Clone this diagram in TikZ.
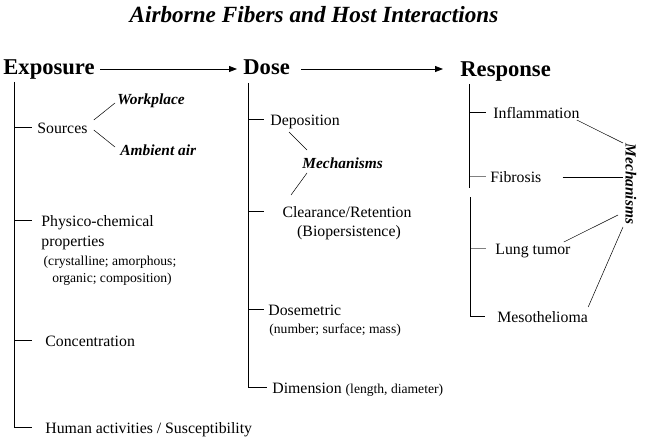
\documentclass[tikz,border=0pt]{standalone}
\usepackage{fontspec}
\setmainfont{Liberation Serif}
\usetikzlibrary{arrows.meta,calc}

\begin{document}
\begin{tikzpicture}[x=1pt,y=-1pt,line width=.8pt,
  head/.style={anchor=base west,inner sep=0,font=\fontsize{22.6}{26}\selectfont\bfseries},
  lbl/.style={anchor=base west,inner sep=0,font=\fontsize{15.8}{18}\selectfont},
  sml/.style={anchor=base west,inner sep=0,font=\fontsize{13.6}{16}\selectfont},
  mech/.style={anchor=base west,inner sep=0,font=\fontsize{15.4}{17}\selectfont\bfseries\itshape},
  arr/.style={-{Triangle[length=8pt,width=6pt]}}]
\useasboundingbox (0,0) rectangle (647,441);
\node[anchor=base,inner sep=0,font=\fontsize{23.2}{26}\selectfont\bfseries\itshape] (title) at (314,23){Airborne Fibers and Host Interactions};
\node[head] (expo) at (3,75){Exposure};
\node[head] (dose) at (243,75){Dose};
\node[head] (resp) at (460,77){Response};
\draw[arr] ($(expo.base east)+(5,-6)$) -- ($(dose.base west)+(-6,-6)$);
\draw[arr] ($(dose.base east)+(11,-6)$) -- ($(resp.base west)+(-17,-8)$);
% exposure
\coordinate (expotop) at (14,82);
\node[lbl] (sources) at (37,133){Sources};
\node[mech] (work) at (117,105){Workplace};
\node[mech] (ambient) at (120,155){Ambient air};
\draw[line width=.5pt] ($(sources.base east)+(6,-13)$) -- ($(work.base west)+(-2,-2)$);
\draw[line width=.5pt] ($(sources.base east)+(6,-3)$) -- ($(ambient.base west)+(-5,-8)$);
\node[lbl] (physico) at (41,226){Physico-chemical};
\node[lbl] (props) at (41,246){properties};
\node[sml,anchor=base] (cryst) at (110,265){(crystalline; amorphous;};
\node[sml,anchor=base] (organic) at (112,282){organic; composition)};
\node[lbl] (conc) at (45,346){Concentration};
\node[lbl] (human) at (45,433){Human activities / Susceptibility};
\foreach \n in {sources,physico,conc}
  \draw ($(expotop |- \n.base)+(0,-6)$) -- +(18,0);
\draw (expotop) |- ($(human.base west)+(-13,-6)$);
% dose
\coordinate (dosetop) at (248,83);
\node[lbl] (depo) at (270,125){Deposition};
\node[mech] (mech1) at (302,168){Mechanisms};
\node[lbl,anchor=base] (clear) at (347,217){Clearance/Retention};
\node[lbl,anchor=base] (biop) at (349,236){(Biopersistence)};
\draw[line width=.5pt] ($(depo.base west)+(19,7)$) -- ($(mech1.base west)+(5,-18)$);
\draw[line width=.5pt] ($(mech1.base west)+(5,5)$) -- ($(clear.base)+(-56,-22)$);
\node[lbl] (dosem) at (268,315){Dosemetric};
\node[sml] (numb) at (269,333){(number; surface; mass)};
\node[lbl] (dimen) at (272,393){Dimension {\fontsize{13.6}{16}\selectfont(length, diameter)}};
\foreach \n in {depo,clear,dosem}
  \draw ($(dosetop |- \n.base)+(0,-6)$) -- +(16,0);
\draw (dosetop) |- ($(dimen.base west)+(-5,-6)$);
% response
\coordinate (resptop) at (469,84);
\node[lbl] (infl) at (493,118){Inflammation};
\node[lbl] (fib) at (490,182){Fibrosis};
\node[lbl] (lung) at (495,254){Lung tumor};
\node[lbl] (meso) at (497,322){Mesothelioma};
\node[anchor=center,inner sep=0,rotate=-90,font=\fontsize{15.4}{17}\selectfont\bfseries\itshape] (mech2) at (631,184){Mechanisms};
\draw ($(resptop |- infl.base)+(0,-6)$) -- +(17,0);
\draw[gray] ($(resptop |- fib.base)+(0,-6)$) -- +(17,0);
\draw[gray] ($(resptop |- lung.base)+(1,-6)$) -- +(16,0);
\draw (resptop) -- ++(0,104);
\draw ($(resptop)+(1,113)$) |- ($(meso.base west)+(-12,-6)$);
\draw[line width=.5pt] ($(infl.base east)+(-3,2)$) -- ($(mech2)+(-8,-41)$);
\draw ($(fib.base east)+(21,-5)$) -- ($(mech2 |- fib.base)+(-8,-5)$);
\draw[line width=.5pt] ($(lung.base east)+(-7,-12)$) -- ($(mech2)+(-13,31)$);
\draw[line width=.5pt] ($(meso.base east)+(0,-15)$) -- ($(mech2)+(-8,43)$);
\end{tikzpicture}
\end{document}
